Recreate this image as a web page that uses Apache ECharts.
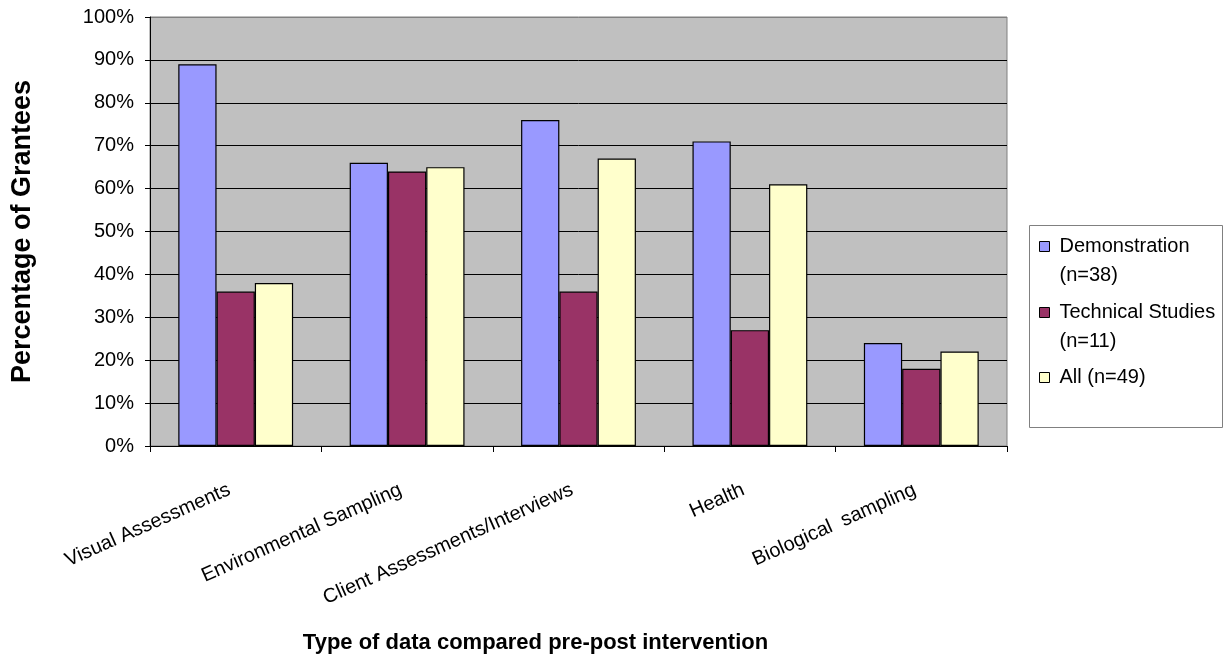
<!DOCTYPE html>
<html>
<head>
<meta charset="utf-8">
<script src="https://cdn.jsdelivr.net/npm/echarts@6/dist/echarts.min.js"></script>
<style>
  html, body { margin: 0; padding: 0; background: #ffffff; }
  #chart { width: 1229px; height: 669px; }
</style>
</head>
<body>
<div id="chart"></div>
<script>
// Data: share of grantees comparing each type of data before/after intervention
const categories = [
  'Visual Assessments',
  'Environmental Sampling',
  'Client Assessments/Interviews',
  'Health',
  'Biological  sampling'
];
const seriesNames = ['Demonstration (n=38)', 'Technical Studies (n=11)', 'All (n=49)'];
const demonstration = [89, 66, 76, 71, 24];
const technicalStudies = [36, 64, 36, 27, 18];
const allGrantees = [38, 65, 67, 61, 22];
const yMin = 0, yMax = 100, yStep = 10;
const xTitle = 'Type of data compared pre-post intervention';
const yTitle = 'Percentage of Grantees';

const colors = ['#9999FF', '#993366', '#FFFFCC'];
const FONT = '"Liberation Sans", Arial, sans-serif';

const chart = echarts.init(document.getElementById('chart'), null, { renderer: 'canvas' });

const seriesData = [demonstration, technicalStudies, allGrantees];
const series = seriesNames.map((name, i) => ({
  name,
  type: 'bar',
  data: seriesData[i],
  barGap: '0%',
  barCategoryGap: '33%',
  itemStyle: { color: colors[i], borderColor: '#000', borderWidth: 1.2 },
  emphasis: { disabled: true }
}));

// One legend per entry so each label can wrap onto two lines beside its swatch.
// A leading blank line keeps the first text line level with the swatch.
const legendTops = [203, 269, 363];
const legends = seriesNames.map((name, i) => {
  const wrap = i < 2;
  return {
    data: [name],
    left: 1039,
    top: legendTops[i],
    padding: 0,
    orient: 'vertical',
    icon: 'rect',
    itemWidth: 10,
    itemHeight: 10,
    selectedMode: false,
    itemStyle: { borderColor: '#000', borderWidth: 1 },
    formatter: n => wrap ? ' \n' + n.replace(' (', '\n(') : n,
    textStyle: {
      fontFamily: FONT,
      fontSize: 20,
      color: '#000',
      lineHeight: 29,
      padding: [0, 0, 0, 5]
    }
  };
});

// Gridlines are black; the top one doubles as the grey plot border
const gridLineColors = [];
for (let v = yMin; v <= yMax; v += yStep) gridLineColors.push(v === yMax ? '#808080' : '#000');

chart.setOption({
  animation: false,
  color: colors,
  textStyle: { fontFamily: FONT },
  grid: {
    left: 150,
    right: 222,
    top: 17,
    bottom: 223,
    show: true,
    backgroundColor: '#C0C0C0',
    borderColor: '#808080',
    borderWidth: 1
  },
  legend: legends,
  graphic: [{
    type: 'rect',
    left: 1029,
    top: 225,
    z: 1,
    shape: { width: 193, height: 202 },
    style: { fill: '#ffffff', stroke: '#808080', lineWidth: 1 }
  }],
  xAxis: {
    type: 'category',
    data: categories,
    boundaryGap: true,
    name: xTitle,
    nameLocation: 'middle',
    nameGap: 186,
    nameMoveOverlap: false,
    nameTextStyle: {
      fontFamily: FONT,
      fontSize: 22,
      fontWeight: 'bold',
      color: '#000',
      padding: [0, 86, 0, 0]
    },
    axisLine: { lineStyle: { color: '#000', width: 1 } },
    axisTick: { show: true, alignWithLabel: false, length: 6, lineStyle: { color: '#000' } },
    axisLabel: {
      interval: 0,
      rotate: 24,
      margin: 40,
      fontFamily: FONT,
      fontSize: 20,
      color: '#000',
      padding: [0, 7, 0, 0]
    },
    splitLine: { show: false }
  },
  yAxis: {
    type: 'value',
    min: yMin,
    max: yMax,
    interval: yStep,
    name: yTitle,
    nameLocation: 'middle',
    nameGap: 114,
    nameMoveOverlap: false,
    nameTextStyle: {
      fontFamily: FONT,
      fontSize: 27,
      fontWeight: 'bold',
      color: '#000'
    },
    axisLine: { show: true, lineStyle: { color: '#000', width: 1 } },
    axisTick: { show: true, length: 5, lineStyle: { color: '#000' } },
    axisLabel: {
      formatter: '{value}%',
      margin: 16,
      fontFamily: FONT,
      fontSize: 20,
      color: '#000'
    },
    splitLine: { show: true, lineStyle: { color: gridLineColors, width: 1 } }
  },
  series
});
</script>
</body>
</html>
